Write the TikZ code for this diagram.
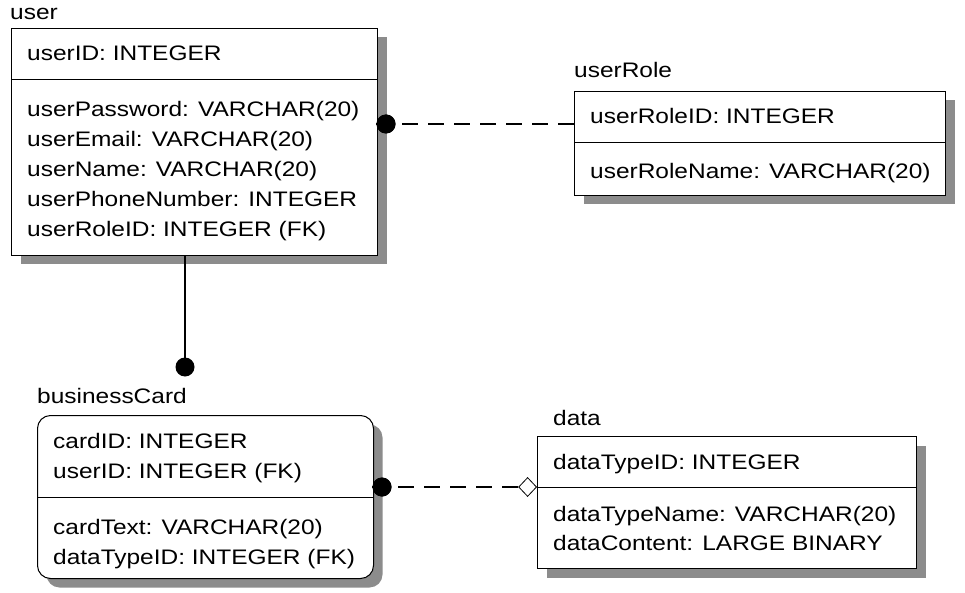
\documentclass[tikz,border=0pt]{standalone}
\usepackage{fontspec}
\setmainfont[FakeStretch=1.165]{Liberation Sans}
\usetikzlibrary{shapes.geometric,shadows}
\begin{document}
\begin{tikzpicture}[x=1pt,y=-1pt,
  ent/.style={draw=black, line width=1pt, fill=white, inner sep=0pt, anchor=north west,
    drop shadow={shadow xshift=9pt, shadow yshift=-9pt, opacity=1, fill=black!45}},
  txt/.style={anchor=base west, inner sep=0pt, font=\fontsize{21}{30}\selectfont, text=black},
  sepline/.style={line width=1pt},
  dotc/.style={circle, fill=black, draw=none, minimum size=19pt, inner sep=0pt},
  rel/.style={line width=1.2pt},
  nrel/.style={line width=1.2pt, dash pattern=on 16pt off 10pt, draw=black},
  diam/.style={diamond, draw=black, fill=white, line width=0.8pt, minimum width=18pt, minimum height=19pt, inner sep=0pt, anchor=east}
]
\useasboundingbox (0,0) rectangle (965,593);

% user
\node[txt] (lUser) at (10,20) {user};
\node[ent, minimum width=366pt, minimum height=227pt] (user) at (11,28) {};
\draw[sepline] (11,80) -- (377,80);
\node[txt] (u1) at (27,61) {userID: INTEGER};
\node[txt] (u2) at (27,117) {userPassword: VARCHAR(20)};
\node[txt] (u3) at (27,147) {userEmail: VARCHAR(20)};
\node[txt] (u4) at (27,177) {userName: VARCHAR(20)};
\node[txt] (u5) at (27,207) {userPhoneNumber: INTEGER};
\node[txt] (u6) at (27,237) {userRoleID: INTEGER (FK)};

% userRole
\node[txt] (lRole) at (574,78) {userRole};
\node[ent, minimum width=371pt, minimum height=104pt] (role) at (574,91) {};
\draw[sepline] (574,143) -- (945,143);
\node[txt] (r1) at (590,124) {userRoleID: INTEGER};
\node[txt] (r2) at (590,179) {userRoleName: VARCHAR(20)};

% businessCard
\node[txt] (lCard) at (37,403) {businessCard};
\node[ent, rounded corners=13pt, minimum width=336pt, minimum height=163pt] (card) at (37,415) {};
\draw[sepline] (37,497) -- (373,497);
\node[txt] (c1) at (53,448) {cardID: INTEGER};
\node[txt] (c2) at (53,478) {userID: INTEGER (FK)};
\node[txt] (c3) at (53,534) {cardText: VARCHAR(20)};
\node[txt] (c4) at (53,564) {dataTypeID: INTEGER (FK)};

% data
\node[txt] (lData) at (553,425) {data};
\node[ent, minimum width=379pt, minimum height=132pt] (data) at (537,436) {};
\draw[sepline] (537,487) -- (916,487);
\node[txt] (d1) at (553,469) {dataTypeID: INTEGER};
\node[txt] (d2) at (553,521) {dataTypeName: VARCHAR(20)};
\node[txt] (d3) at (553,550) {dataContent: LARGE BINARY};

% relationships
\node[dotc] (dot1) at (386,124) {};
\node[dotc] (dot3) at (185,367) {};
\node[dotc] (dot2) at (382,487) {};
\node[diam] (dia) at (data.west |- dot2) {};

\draw[nrel] (dot1.west) -- (role.west |- dot1);
\draw[rel] (dot3 |- user.south) -- (dot3.center);
\draw[nrel] (dot2.west) -- (dia.west);
\node[dotc] (dot1b) at (dot1) {};
\node[dotc] (dot2b) at (dot2) {};
\end{tikzpicture}
\end{document}
